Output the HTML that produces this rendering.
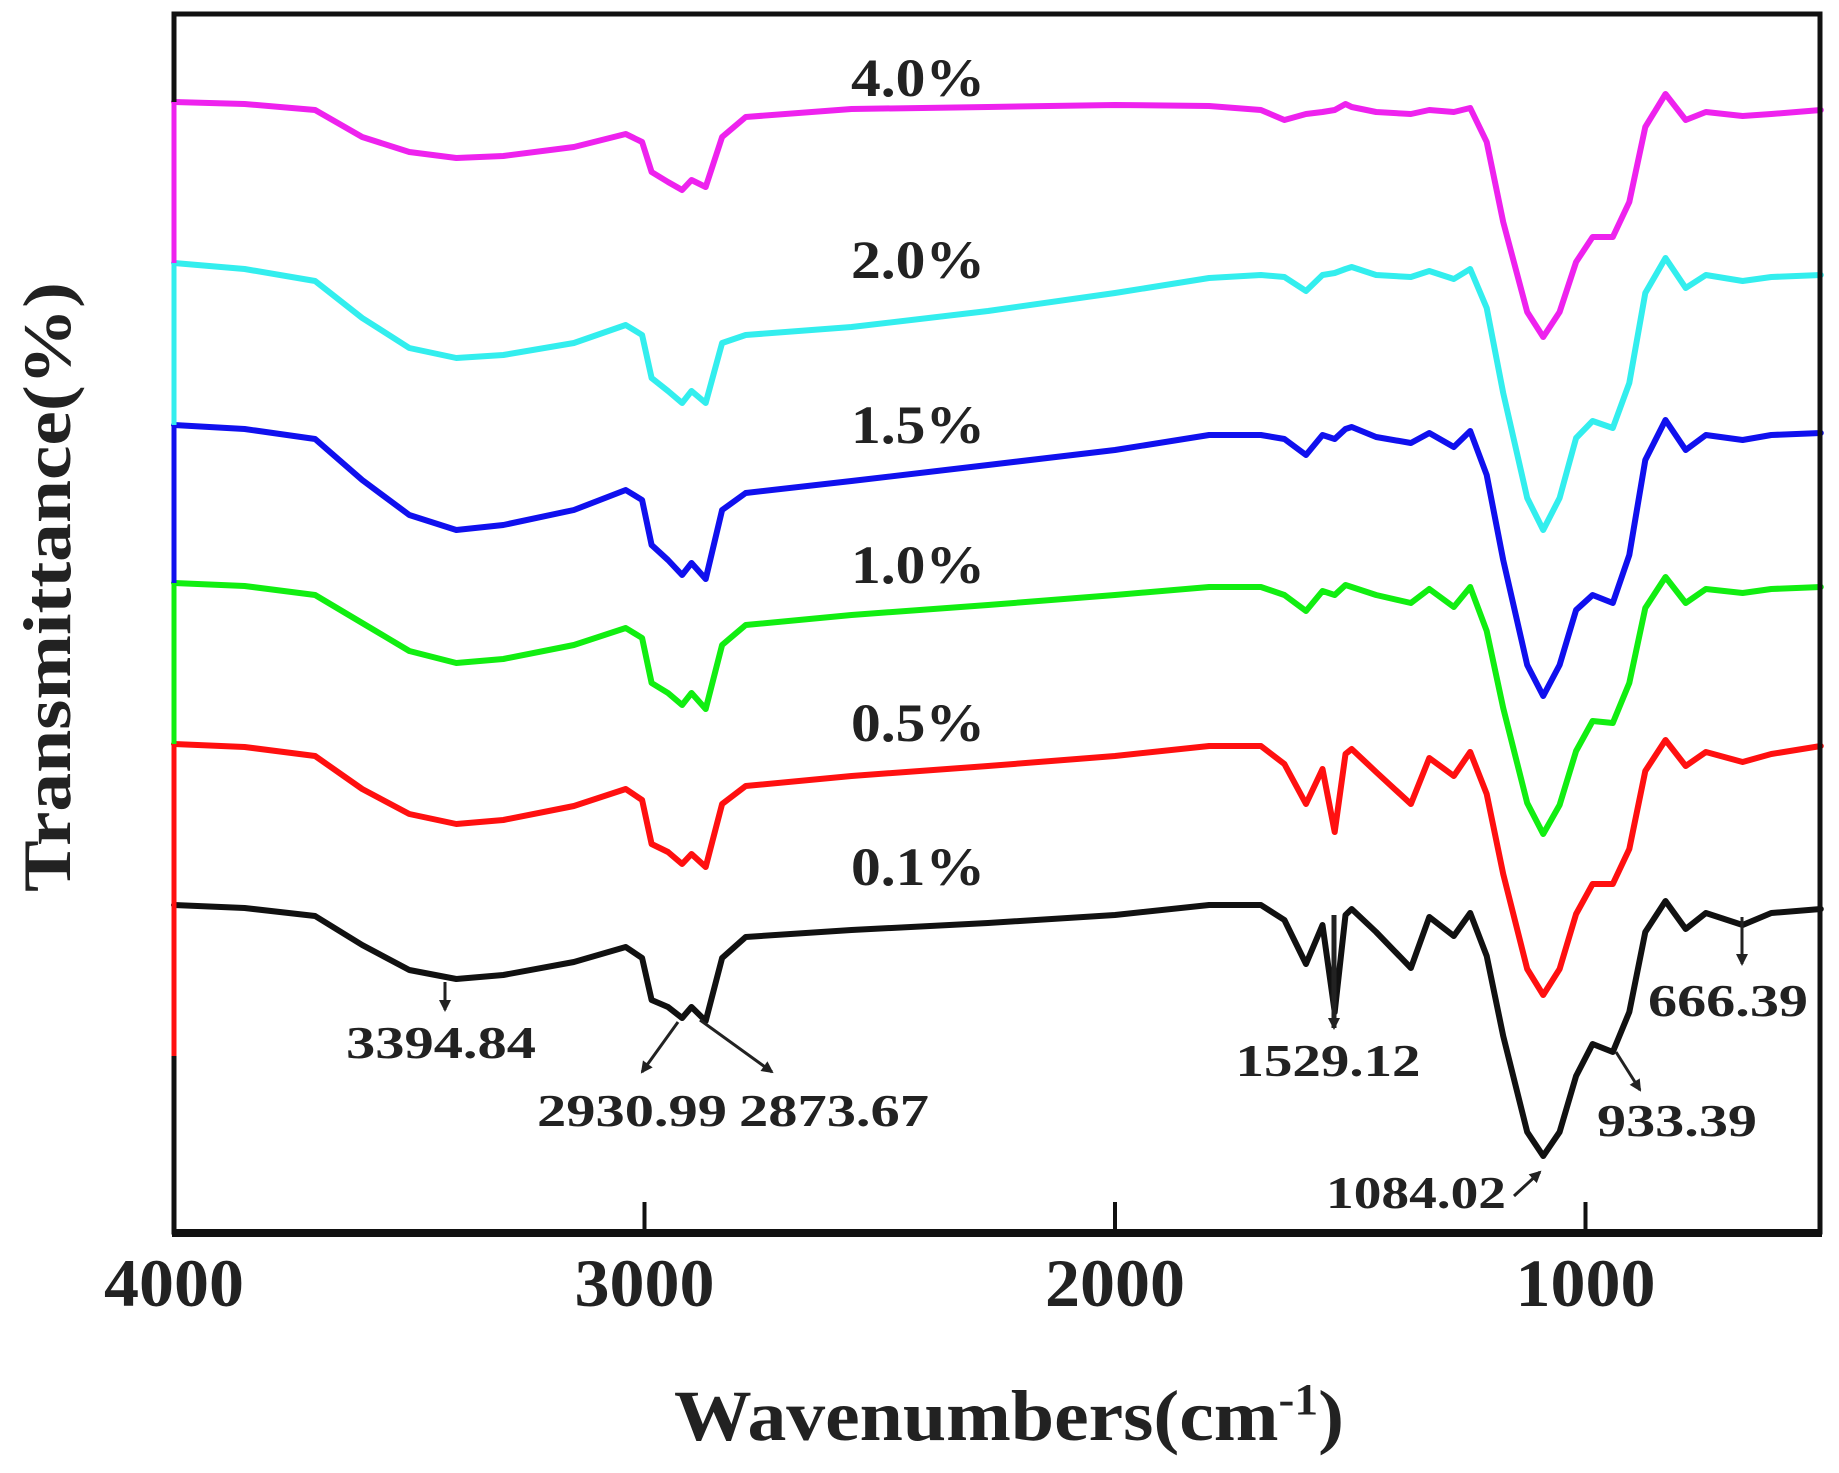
<!DOCTYPE html>
<html><head><meta charset="utf-8"><style>
html,body{margin:0;padding:0;background:#fff;}
svg{display:block;}
text{font-family:"Liberation Serif",serif;font-weight:bold;fill:#222;}
</style></head><body>
<svg id="chart" width="1839" height="1473" viewBox="0 0 1839 1473" xmlns="http://www.w3.org/2000/svg">
<defs><marker id="ah" markerWidth="14" markerHeight="14" refX="10" refY="7" orient="auto" markerUnits="userSpaceOnUse"><path d="M0,1 L12,7 L0,13 z" fill="#222"/></marker></defs>
<g id="series"></g>
<rect x="174" y="14" width="1646" height="1218" fill="none" stroke="#111" stroke-width="5"/>
<line x1="172" y1="1233" x2="1822" y2="1233" stroke="#111" stroke-width="8"/>
<g id="spine"></g>
<g id="ticks"></g>
<text x="1009" y="1440" font-size="72" text-anchor="middle" textLength="670" lengthAdjust="spacingAndGlyphs">Wavenumbers(cm<tspan font-size="44" dy="-26">-1</tspan><tspan dy="26">)</tspan></text>
<text x="0" y="0" font-size="68" text-anchor="middle" textLength="610" lengthAdjust="spacingAndGlyphs" transform="translate(70,587) rotate(-90)">Transmittance(%)</text>
<g id="labels"></g>
<g font-size="46">
<text x="441" y="1058" text-anchor="middle" textLength="190" lengthAdjust="spacingAndGlyphs">3394.84</text>
<line x1="445" y1="982" x2="445" y2="1010" stroke="#222" stroke-width="3" marker-end="url(#ah)"/>
<text x="632" y="1126" text-anchor="middle" textLength="190" lengthAdjust="spacingAndGlyphs">2930.99</text>
<text x="834" y="1126" text-anchor="middle" textLength="190" lengthAdjust="spacingAndGlyphs">2873.67</text>
<line x1="678" y1="1022" x2="642" y2="1072" stroke="#222" stroke-width="3" marker-end="url(#ah)"/>
<line x1="700" y1="1020" x2="772" y2="1072" stroke="#222" stroke-width="3" marker-end="url(#ah)"/>
<text x="1328" y="1076" text-anchor="middle" textLength="185" lengthAdjust="spacingAndGlyphs">1529.12</text>
<line x1="1334" y1="915" x2="1334" y2="1028" stroke="#222" stroke-width="5" marker-end="url(#ah)"/>
<text x="1728" y="1016" text-anchor="middle" textLength="160" lengthAdjust="spacingAndGlyphs">666.39</text>
<line x1="1742" y1="917" x2="1742" y2="964" stroke="#222" stroke-width="3" marker-end="url(#ah)"/>
<text x="1677" y="1136" text-anchor="middle" textLength="160" lengthAdjust="spacingAndGlyphs">933.39</text>
<line x1="1616" y1="1052" x2="1640" y2="1090" stroke="#222" stroke-width="3" marker-end="url(#ah)"/>
<text x="1416" y="1208" text-anchor="middle" textLength="180" lengthAdjust="spacingAndGlyphs">1084.02</text>
<line x1="1514" y1="1196" x2="1540" y2="1172" stroke="#222" stroke-width="3" marker-end="url(#ah)"/>
</g>
</svg>
<script>
const wavenumbers=[4000,3850,3700,3600,3500,3400,3300,3150,3040,3005,2985,2950,2920,2900,2870,2835,2785,2560,2270,2000,1800,1690,1640,1594,1559,1533,1510,1497,1445,1371,1332,1280,1245,1210,1175,1124,1090,1055,1020,985,942,907,873,830,787,744,666,605,500];
const seriesNames=["0.1%","0.5%","1.0%","1.5%","2.0%","4.0%"];
const seriesColors=["#111111","#ff1010","#11ee11","#1010ee","#33eeee","#ee22ee"];
const t01=[32.7,32.4,31.6,28.7,26.2,25.3,25.7,27.0,28.5,27.4,23.2,22.5,21.4,22.5,21.1,27.4,29.5,30.2,30.9,31.7,32.7,32.7,31.2,26.8,30.7,22.0,31.7,32.3,30.0,26.4,31.5,29.6,31.9,27.6,19.6,10.0,7.6,10.0,15.6,18.8,18.0,22.0,30.0,33.1,30.3,31.9,30.7,31.9,32.3];
const t05=[48.8,48.5,47.6,44.3,41.8,40.8,41.2,42.6,44.3,43.2,38.8,38.0,36.8,37.8,36.5,42.8,44.6,45.6,46.6,47.6,48.6,48.6,46.8,42.8,46.3,40.0,47.8,48.3,46.0,42.8,47.4,45.6,48.0,43.8,35.8,26.3,23.7,26.3,31.8,34.8,34.8,38.3,46.1,49.2,46.6,48.0,47.0,47.8,48.6];
const t10=[64.9,64.6,63.7,60.9,58.1,56.9,57.3,58.7,60.4,59.4,54.9,53.9,52.7,53.9,52.3,58.7,60.7,61.7,62.7,63.7,64.5,64.5,63.7,62.1,64.1,63.7,64.7,64.5,63.7,62.9,64.3,62.5,64.5,60.1,52.4,42.9,39.8,42.7,48.1,51.1,50.9,54.9,62.4,65.5,62.9,64.3,63.9,64.3,64.5];
const t15=[80.7,80.3,79.3,75.2,71.7,70.2,70.7,72.2,74.2,73.2,68.7,67.2,65.7,66.9,65.3,72.2,73.9,75.1,76.7,78.2,79.7,79.7,79.3,77.7,79.7,79.3,80.3,80.5,79.5,78.9,79.9,78.5,80.1,75.7,67.2,56.7,53.6,56.7,62.2,63.7,62.9,67.7,77.2,81.2,78.2,79.7,79.2,79.7,79.9];
const t20=[96.9,96.3,95.1,91.4,88.4,87.4,87.7,88.9,90.7,89.7,85.4,84.1,82.9,84.1,82.9,88.9,89.7,90.5,92.1,93.9,95.4,95.7,95.5,94.1,95.7,95.9,96.3,96.5,95.7,95.5,96.1,95.3,96.3,92.4,83.9,73.4,70.2,73.4,79.4,81.1,80.4,84.9,93.9,97.4,94.4,95.7,95.1,95.5,95.7];
const t40=[113.0,112.8,112.2,109.5,108.0,107.4,107.6,108.5,109.8,109.0,106.0,105.0,104.2,105.2,104.5,109.5,111.5,112.3,112.5,112.7,112.6,112.2,111.2,111.8,112.0,112.2,112.8,112.5,112.0,111.8,112.2,112.0,112.4,109.0,101.0,92.0,89.5,92.0,97.0,99.5,99.5,103.0,110.5,113.8,111.2,112.0,111.6,111.8,112.2];
const xTicks=[4000,3000,2000,1000];
const labelValues=[36.5,50.9,66.7,80.7,97.2,115.4];

const NS="http://www.w3.org/2000/svg";
function xs(w){return 174+(4000-w)*0.4705;}
function ys(v){return 1232-v*10;}
const allSeries=[t01,t05,t10,t15,t20,t40];
const g=document.getElementById('series');
allSeries.forEach((vals,i)=>{
  const p=document.createElementNS(NS,'polyline');
  p.setAttribute('points',vals.map((v,j)=>xs(wavenumbers[j]).toFixed(1)+','+ys(v).toFixed(1)).join(' '));
  p.setAttribute('fill','none');p.setAttribute('stroke',seriesColors[i]);
  p.setAttribute('stroke-width','6');p.setAttribute('stroke-linejoin','round');p.setAttribute('stroke-linecap','round');
  
  
  g.appendChild(p);
});
const sp=document.getElementById('spine');
for(let i=1;i<allSeries.length;i++){
  const l=document.createElementNS(NS,'line');
  l.setAttribute('x1',174);l.setAttribute('x2',174);
  l.setAttribute('y1',ys(allSeries[i][0]));
  l.setAttribute('y2',i===1?1056:ys(allSeries[i-1][0]));
  l.setAttribute('stroke',seriesColors[i]);l.setAttribute('stroke-width','5');
  
  
  sp.appendChild(l);
}
const tg=document.getElementById('ticks');
xTicks.forEach(t=>{
  const x=xs(t);
  if(t!==4000){const l=document.createElementNS(NS,'line');
  l.setAttribute('x1',x);l.setAttribute('x2',x);l.setAttribute('y1',1232);l.setAttribute('y2',1202);
  l.setAttribute('stroke','#111');l.setAttribute('stroke-width','4');
  
  
  tg.appendChild(l);}
  const tx=document.createElementNS(NS,'text');
  tx.setAttribute('x',x);tx.setAttribute('y',1306);tx.setAttribute('font-size','68');
  tx.setAttribute('text-anchor','middle');tx.setAttribute('textLength','140');tx.setAttribute('lengthAdjust','spacingAndGlyphs');
  tx.textContent=t;
  
  
  tg.appendChild(tx);
});
const lg=document.getElementById('labels');
seriesNames.forEach((n,i)=>{
  const tx=document.createElementNS(NS,'text');
  tx.setAttribute('x',918);tx.setAttribute('y',ys(labelValues[i])+18);
  tx.setAttribute('font-size','54');tx.setAttribute('text-anchor','middle');
  tx.setAttribute('textLength','134');tx.setAttribute('lengthAdjust','spacingAndGlyphs');
  tx.textContent=n;
  
  
  lg.appendChild(tx);
});
</script>
</body></html>
